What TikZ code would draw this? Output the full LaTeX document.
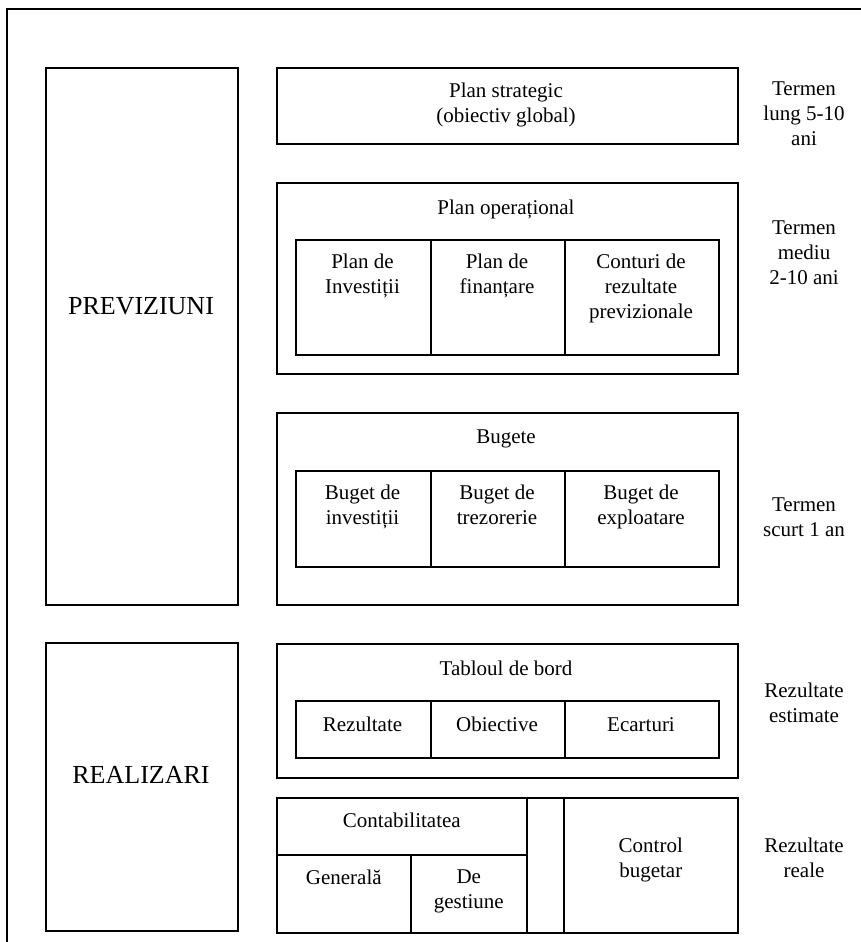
\documentclass[tikz,border=0pt]{standalone}
\usepackage{fontspec}
\setmainfont{Liberation Serif}
\usetikzlibrary{positioning}

\begin{document}
\begin{tikzpicture}[
  x=1pt, y=-1pt,
  font=\fontsize{21}{25}\selectfont,
  cell/.style={
    draw, line width=1.6pt,
    inner sep=0pt, anchor=north west
  },
  txt/.style={align=center, inner sep=0pt, anchor=north},
  big/.style={inner sep=0pt, anchor=north, font=\fontsize{26}{30}\selectfont}
]
\useasboundingbox (0,0) rectangle (860,942);
\draw[line width=1.6pt] (862,9) -- (7,9) -- (7,944);

% coloana din stanga
\node[cell, minimum width=192, minimum height=537] (prev) at (45,67) {};
\node[cell, minimum width=192, minimum height=288] (real) at (45,642) {};
\node[big] (tprev) at (141,297) {PREVIZIUNI};
\node[big] (treal) at (141,766) {REALIZARI};

% plan strategic
\node[cell, minimum width=461, minimum height=76] (strat) at (276,67) {};
\node[txt] (tstrat) at (506,83) {Plan strategic\\(obiectiv global)};
\node[txt] (tlung) at (804,82) {Termen\\lung 5-10\\ani};

% plan operational
\node[cell, minimum width=461, minimum height=191] (oper) at (276,182) {};
\node[txt] (toper) at (506,200) {Plan operațional};
\foreach \n/\x/\w/\t in {pinv/295/135/{Plan de\\Investiții},
    pfin/430/134/{Plan de\\finanțare},
    pcont/564/154/{Conturi de\\rezultate\\previzionale}} {
  \node[cell, minimum width=\w, minimum height=115] (\n) at (\x,239) {};
  \node[txt] (t\n) at (\x+\w/2,254) {\t};
}
\node[txt] (tmediu) at (804,221) {Termen\\mediu\\2-10 ani};

% bugete
\node[cell, minimum width=461, minimum height=192] (buget) at (276,412) {};
\node[txt] (tbuget) at (506,430) {Bugete};
\foreach \n/\x/\w/\t in {binv/295/135/{Buget de\\investiții},
    btrez/430/134/{Buget de\\trezorerie},
    bexp/564/154/{Buget de\\exploatare}} {
  \node[cell, minimum width=\w, minimum height=96] (\n) at (\x,470) {};
  \node[txt] (t\n) at (\x+\w/2,485) {\t};
}
\node[txt] (tscurt) at (804,498) {Termen\\scurt 1 an};

% tabloul de bord
\node[cell, minimum width=461, minimum height=134] (tablou) at (276,643) {};
\node[txt] (ttablou) at (506,661) {Tabloul de bord};
\foreach \n/\x/\w/\t in {rez/295/135/Rezultate, obi/430/134/Obiective,
    ecart/564/154/Ecarturi} {
  \node[cell, minimum width=\w, minimum height=57] (\n) at (\x,700) {};
  \node[txt] (t\n) at (\x+\w/2,717) {\t};
}
\node[txt] (testim) at (804,683) {Rezultate\\estimate};

% contabilitate si control
\node[cell, minimum width=250, minimum height=57] (cont) at (276,797) {};
\node[cell, minimum width=134, minimum height=78] (gen) at (276,854) {};
\node[cell, minimum width=116, minimum height=78] (gest) at (410,854) {};
\node[cell, minimum width=37, minimum height=135] (gol) at (526,797) {};
\node[cell, minimum width=174, minimum height=135] (ctrl) at (563,797) {};
\node[txt] (tcont) at (cont.center |- 0,813) {Contabilitatea};
\node[txt] (tgen) at (gen.center |- 0,870) {Generală};
\node[txt] (tgest) at (gest.center |- 0,870) {De\\gestiune};
\node[txt] (tctrl) at (ctrl.center |- 0,838) {Control\\bugetar};
\node[txt] (treale) at (804,838) {Rezultate\\reale};
\end{tikzpicture}
\end{document}
